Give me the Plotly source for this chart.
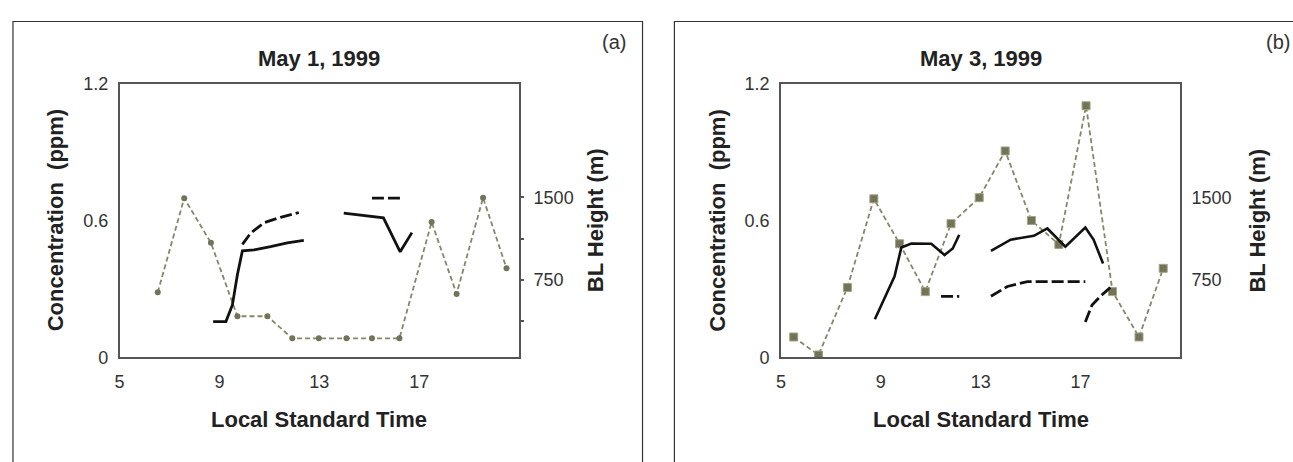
import plotly.graph_objects as go

# ---------------- data ----------------
# Panel (a) May 1, 1999
a_conc_time = [6.53, 7.59, 8.66, 9.72, 10.92, 11.92, 12.98, 14.09, 15.11, 16.21, 17.50, 18.50, 19.56, 20.50]
a_conc_val = [0.285, 0.698, 0.502, 0.180, 0.180, 0.083, 0.083, 0.083, 0.083, 0.083, 0.593, 0.278, 0.700, 0.390]

a_bl1_time = [8.75, 9.26, 9.52, 9.72, 9.92, 10.39, 11.05, 11.72, 12.38, None, 13.98, 14.51, 15.57, 16.24, 16.71]
a_bl1_val = [366, 366, 518, 794, 1013, 1022, 1051, 1086, 1109, None, 1357, 1342, 1314, 1004, 1179]

a_bl2_time = [9.92, 10.25, 10.79, 11.45, 12.18, None, 15.11, 16.24]
a_bl2_val = [1071, 1174, 1270, 1319, 1363, None, 1494, 1494]

# Panel (b) May 3, 1999
b_conc_time = [5.51, 6.50, 7.66, 8.72, 9.75, 10.78, 11.81, 12.94, 13.98, 15.03, 16.13, 17.22, 18.28, 19.34, 20.31]
b_conc_val = [0.089, 0.010, 0.306, 0.695, 0.498, 0.288, 0.586, 0.700, 0.905, 0.600, 0.495, 1.103, 0.288, 0.089, 0.390]

b_bl1_time = [8.76, 9.55, 9.82, 10.22, 11.02, 11.55, 11.88, 12.14, None,
              13.41, 14.20, 15.13, 15.67, 16.39, 17.19, 17.52, 17.90]
b_bl1_val = [387, 780, 1043, 1080, 1078, 975, 1034, 1159, None,
             1013, 1115, 1150, 1217, 1051, 1226, 1115, 897]

b_bl2_time = [11.41, 12.14, None, 13.41, 13.74, 14.07, 14.87, 17.19, None, 17.19, 17.46, 17.79, 18.19]
b_bl2_val = [597, 597, None, 597, 640, 687, 731, 731, None, 363, 518, 597, 678]

x_ticks = [5, 9, 13, 17]
conc_ticks = [0, 0.6, 1.2]
conc_ticktext = ["0", "0.6", "1.2"]
bl_ticks = [375, 750, 1125, 1500]
bl_ticktext = ["", "750", "", "1500"]

titles = ["May 1, 1999", "May 3, 1999"]
panel_tags = ["(a)", "(b)"]

# ---------------- styling ----------------
W, H = 1293, 462
FONT = "Liberation Sans, Arial, sans-serif"
GRAY_LINE = "#86866a"
GRAY_MARK = "#737358"
BLACK = "#111111"


def px(x):
    return x / W


def py(y):
    return 1 - y / H


fig = go.Figure()

# panel a
fig.add_trace(go.Scatter(x=a_conc_time, y=a_conc_val, xaxis="x", yaxis="y", mode="lines+markers",
                         line=dict(color=GRAY_LINE, width=1.8, dash="5px,3px"),
                         marker=dict(symbol="circle", size=6, color=GRAY_MARK)))
fig.add_trace(go.Scatter(x=a_bl1_time, y=a_bl1_val, xaxis="x", yaxis="y2", mode="lines",
                         line=dict(color=BLACK, width=2.8), connectgaps=False))
fig.add_trace(go.Scatter(x=a_bl2_time, y=a_bl2_val, xaxis="x", yaxis="y2", mode="lines",
                         line=dict(color=BLACK, width=2.8, dash="12px,4px"), connectgaps=False))

# panel b
fig.add_trace(go.Scatter(x=b_conc_time, y=b_conc_val, xaxis="x2", yaxis="y3", mode="lines+markers",
                         line=dict(color=GRAY_LINE, width=1.8, dash="5px,3px"),
                         marker=dict(symbol="square", size=8, color=GRAY_MARK,
                                     line=dict(color="#a3a385", width=1))))
fig.add_trace(go.Scatter(x=b_bl1_time, y=b_bl1_val, xaxis="x2", yaxis="y4", mode="lines",
                         line=dict(color=BLACK, width=2.6), connectgaps=False))
fig.add_trace(go.Scatter(x=b_bl2_time, y=b_bl2_val, xaxis="x2", yaxis="y4", mode="lines",
                         line=dict(color=BLACK, width=2.8, dash="12px,4px"), connectgaps=False))

ydom = [py(363), py(77)]
tickfont = dict(family=FONT, size=18, color="#333333")

common_x = dict(range=[5, 21], tickvals=x_ticks, ticks="", showline=True, mirror=True,
                linecolor="#555555", linewidth=1.5, showgrid=False, zeroline=False,
                tickfont=tickfont, ticklabelstandoff=7)
common_y = dict(range=[0, 1.2], tickvals=conc_ticks, ticktext=conc_ticktext, ticks="",
                showline=True, mirror=True, linecolor="#555555", linewidth=1.5,
                showgrid=False, zeroline=False, tickfont=tickfont, ticklabelstandoff=6)
common_y2 = dict(range=[40, 2540], tickvals=bl_ticks, ticktext=bl_ticktext, side="right",
                 showline=False, showgrid=False, zeroline=False, tickfont=tickfont)

fig.update_layout(
    width=W, height=H, margin=dict(l=0, r=0, t=0, b=0),
    paper_bgcolor="white", plot_bgcolor="white", showlegend=False,
    xaxis=dict(domain=[px(115), px(516)], anchor="y", **common_x),
    yaxis=dict(domain=ydom, anchor="x", **common_y),
    yaxis2=dict(overlaying="y", anchor="x", ticks="outside", ticklen=4, tickwidth=1.5,
                tickcolor="#555555", ticklabelstandoff=6, **common_y2),
    xaxis2=dict(domain=[px(779), px(1180)], anchor="y3", **common_x),
    yaxis3=dict(domain=ydom, anchor="x2", **common_y),
    yaxis4=dict(overlaying="y3", anchor="x2", ticks="", ticklabelstandoff=10, **common_y2),
)

# outer panel frames
for x0, x1 in [(8, 640), (672, 1310)]:
    fig.add_shape(type="rect", xref="paper", yref="paper", x0=px(x0), x1=px(x1),
                  y0=py(480), y1=py(12), line=dict(color="#333333", width=1.2),
                  fillcolor="rgba(0,0,0,0)", layer="below")

bold = dict(family=FONT, size=22, color="#222222")
annos = []
for i, (plot_l, plot_r) in enumerate([(115, 516), (779, 1180)]):
    cx = (plot_l + plot_r) / 2
    annos.append(dict(text="<b>" + titles[i] + "</b>", x=px(cx), y=py(51), xref="paper", yref="paper",
                      showarrow=False, font=bold, xanchor="center", yanchor="middle"))
    annos.append(dict(text="<b>Local Standard Time</b>", x=px(cx), y=py(428), xref="paper", yref="paper",
                      showarrow=False, font=bold, xanchor="center", yanchor="middle"))
    annos.append(dict(text="<b>Concentration  (ppm)</b>", x=px(plot_l - 64), y=py(220), xref="paper",
                      yref="paper", showarrow=False, font=bold, textangle=-90,
                      xanchor="center", yanchor="middle"))
    annos.append(dict(text="<b>BL Height (m)</b>", x=px(plot_r + 77), y=py(220), xref="paper",
                      yref="paper", showarrow=False, font=bold, textangle=-90,
                      xanchor="center", yanchor="middle"))
tag_x = [611, 1278]
for i in range(2):
    annos.append(dict(text=panel_tags[i], x=px(tag_x[i]), y=py(33), xref="paper", yref="paper",
                      showarrow=False, font=dict(family=FONT, size=20, color="#333333"),
                      xanchor="center", yanchor="middle"))
fig.update_layout(annotations=annos)

fig.write_html("out.html")
